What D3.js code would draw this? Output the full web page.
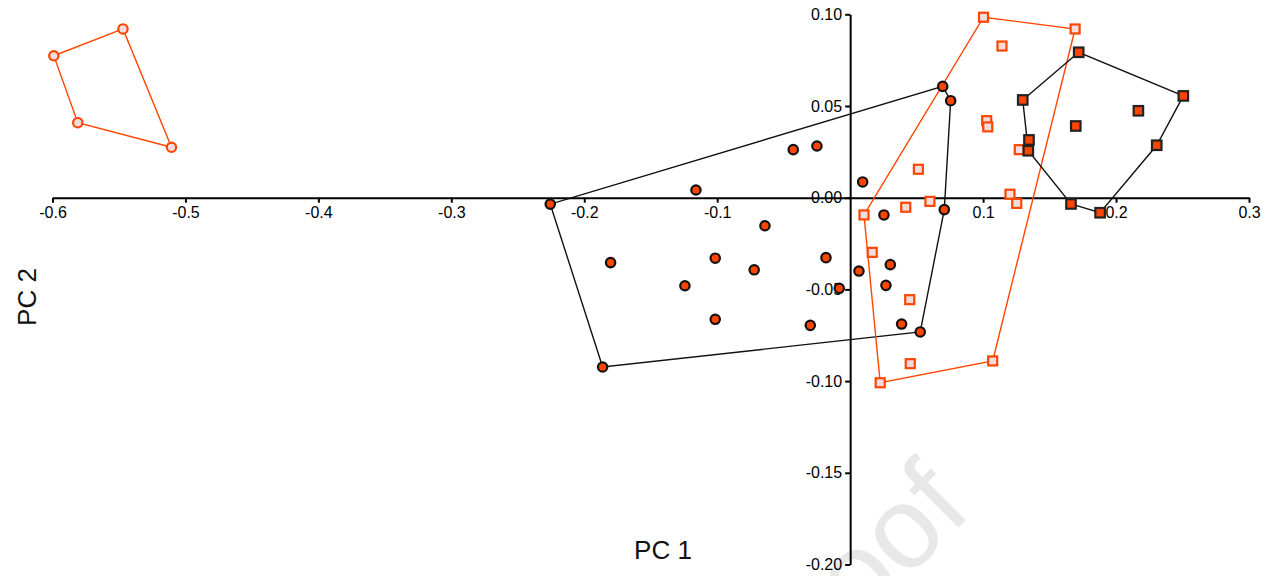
<!DOCTYPE html>
<html>
<head>
<meta charset="utf-8">
<script src="https://cdn.jsdelivr.net/npm/d3@7"></script>
<style>
  html, body { margin: 0; padding: 0; background: #fff; }
  svg { display: block; font-family: "Liberation Sans", Arial, sans-serif; }
</style>
</head>
<body>
<svg id="chart" width="1276" height="576"></svg>
<script>
// ---- data (PC1, PC2) ----
const openCircles = [
  [-0.599, 0.0774], [-0.547, 0.0920], [-0.581, 0.0409], [-0.5105, 0.0275]
];
const filledCircles = [
  [-0.2256, -0.0035], [0.0696, 0.0607], [0.0756, 0.0529], [-0.0428, 0.0262],
  [-0.0250, 0.0282], [-0.1160, 0.0042], [0.0094, 0.0086], [0.0708, -0.0065],
  [0.0254, -0.0094], [-0.0641, -0.0153], [-0.1802, -0.0354], [-0.1015, -0.0330],
  [-0.0722, -0.0393], [-0.0182, -0.0327], [-0.1243, -0.0480], [-0.0082, -0.0494],
  [-0.1015, -0.0663], [-0.0300, -0.0696], [-0.1862, -0.0923], [0.0066, -0.0400],
  [0.0302, -0.0365], [0.0269, -0.0478], [0.0387, -0.0689], [0.0527, -0.0732]
];
const openSquares = [
  [0.1003, 0.0984], [0.1692, 0.0920], [0.1142, 0.0827], [0.1027, 0.0420],
  [0.1035, 0.0386], [0.1272, 0.0262], [0.0513, 0.0155], [0.1202, 0.0019],
  [0.1253, -0.0031], [0.0600, -0.0020], [0.0418, -0.0052], [0.0104, -0.0094],
  [0.0166, -0.0298], [0.0448, -0.0556], [0.0452, -0.0905], [0.0226, -0.1009],
  [0.1072, -0.0890]
];
const filledSquares = [
  [0.1719, 0.0793], [0.2506, 0.0555], [0.1298, 0.0533], [0.2168, 0.0474],
  [0.1697, 0.0391], [0.1345, 0.0315], [0.1340, 0.0256], [0.2306, 0.0286],
  [0.1661, -0.0034], [0.1880, -0.0082]
];
const xTicks = [-0.6, -0.5, -0.4, -0.3, -0.2, -0.1, 0.1, 0.2, 0.3];
const xTickLabels = ["-0.6", "-0.5", "-0.4", "-0.3", "-0.2", "-0.1", "0.1", "0.2", "0.3"];
const yTicks = [0.10, 0.05, 0.00, -0.05, -0.10, -0.15, -0.20];
const yTickLabels = ["0.10", "0.05", "0.00", "-0.05", "-0.10", "-0.15", "-0.20"];
const xTitle = "PC 1";
const yTitle = "PC 2";
const watermark = "oof";

// ---- drawing ----
const svg = d3.select("#chart");
const x = d3.scaleLinear().domain([-0.6, 0.3]).range([52.5, 1249]);
const y = d3.scaleLinear().domain([0.10, -0.20]).range([14.3, 564.5]);
const ORANGE = "#ff4500";
const PINK = "#f2dcdc";

// watermark
svg.append("text")
  .attr("transform", "translate(974,512) rotate(-45)")
  .attr("text-anchor", "end")
  .attr("font-size", 116)
  .attr("fill", "#e8e8e8")
  .text(watermark);

// axes
const xAxis = d3.axisBottom(x).tickValues(xTicks)
  .tickFormat((d, i) => xTickLabels[i]).tickSize(5).tickSizeOuter(0).tickPadding(4);
const yAxis = d3.axisLeft(y).tickValues(yTicks)
  .tickFormat((d, i) => yTickLabels[i]).tickSize(5).tickSizeOuter(0).tickPadding(3);

const gx = svg.append("g").attr("transform", `translate(0,${y(0)})`).call(xAxis);
const gy = svg.append("g").attr("transform", `translate(${x(0)},0)`).call(yAxis);
[gx, gy].forEach(g => {
  g.select(".domain").attr("stroke", "#000").attr("stroke-width", 2);
  g.selectAll(".tick line").attr("stroke", "#000").attr("stroke-width", 2);
  g.selectAll(".tick text").attr("font-size", 16).attr("fill", "#000")
    .attr("font-family", "'Liberation Sans', Arial, sans-serif");
});

// axis titles
svg.append("text").attr("x", 663).attr("y", 559).attr("text-anchor", "middle")
  .attr("font-size", 26).attr("fill", "#111").text(xTitle);
svg.append("text").attr("transform", "translate(36,297) rotate(-90)")
  .attr("text-anchor", "middle").attr("font-size", 26).attr("fill", "#111").text(yTitle);

// hulls
const line = d3.line().x(d => x(d[0])).y(d => y(d[1])).curve(d3.curveLinearClosed);
function hull(data, color) {
  const h = d3.polygonHull(data);
  svg.append("path").attr("d", line(h)).attr("fill", "none")
    .attr("stroke", color).attr("stroke-width", 1.4);
}
hull(openCircles, ORANGE);
hull(filledCircles, "#111");
hull(openSquares, ORANGE);
hull(filledSquares, "#111");

// markers
function circles(data, fill, stroke) {
  svg.append("g").selectAll("circle").data(data).join("circle")
    .attr("cx", d => x(d[0])).attr("cy", d => y(d[1])).attr("r", 4.7)
    .attr("fill", fill).attr("stroke", stroke).attr("stroke-width", 2.2);
}
function squares(data, fill, stroke, s) {
  svg.append("g").selectAll("rect").data(data).join("rect")
    .attr("x", d => x(d[0]) - s / 2).attr("y", d => y(d[1]) - s / 2)
    .attr("width", s).attr("height", s)
    .attr("fill", fill).attr("stroke", stroke).attr("stroke-width", 2.2);
}
circles(openCircles, PINK, ORANGE);
squares(openSquares, PINK, ORANGE, 9);
circles(filledCircles, ORANGE, "#111");
squares(filledSquares, ORANGE, "#222", 9.5);
</script>
</body>
</html>
